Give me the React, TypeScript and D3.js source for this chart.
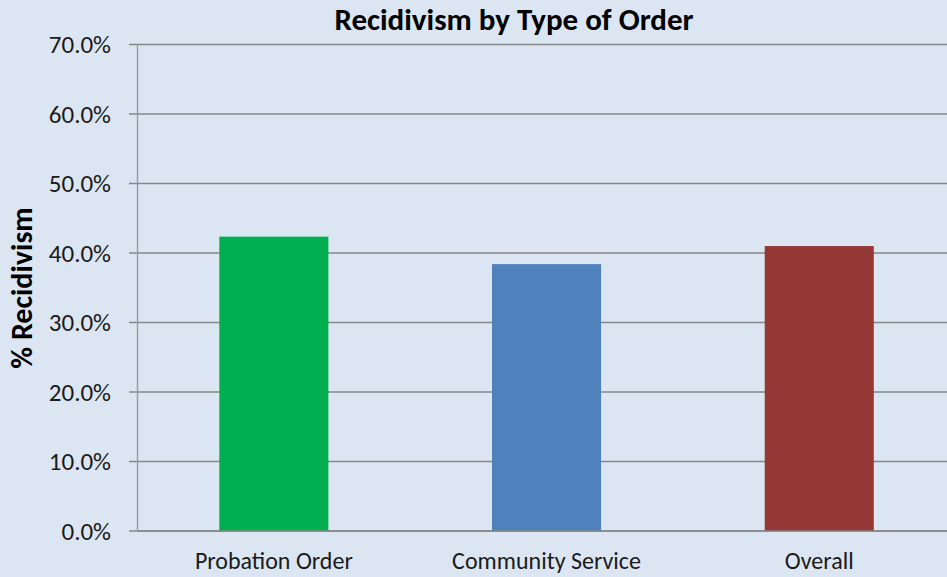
import * as d3 from "d3";

const categories = ["Probation Order", "Community Service", "Overall"];
const values = [0.4235, 0.384, 0.41];
const colors = ["#00b050", "#4f81bd", "#953735"];
const yTicks = [0, 0.1, 0.2, 0.3, 0.4, 0.5, 0.6, 0.7];

const width = 947;
const height = 577;
const marginLeft = 137.5;
const plotRight = 955.6;
const marginTop = 44.5;
const plotBottom = 531;

const font = "Carlito, Calibri, Lato, 'Open Sans', sans-serif";

export default function App() {
  const x = d3
    .scaleBand<string>()
    .domain(categories)
    .range([marginLeft, plotRight])
    .paddingInner(0.6)
    .paddingOuter(0.3);
  const y = d3.scaleLinear([0, 0.7], [plotBottom, marginTop]);
  const fmt = d3.format(".1%");

  return (
    <svg
      width={width}
      height={height}
      style={{ position: "fixed", top: 0, left: 0, background: "#dce6f2" }}
      fontFamily={font}
    >
      <rect width={width} height={height} fill="#dce6f2" />
      {/* gridlines and ticks */}
      {yTicks.map((t) => (
        <g key={t}>
          <line
            x1={129}
            x2={plotRight}
            y1={y(t)}
            y2={y(t)}
            stroke="#878787"
            strokeWidth={1.4}
          />
          <text
            x={111}
            y={y(t)}
            dy="0.35em"
            textAnchor="end"
            fontSize={25}
            fill="#1a1a1a"
          >
            {fmt(t)}
          </text>
        </g>
      ))}
      <line
        x1={marginLeft}
        x2={marginLeft}
        y1={marginTop}
        y2={plotBottom}
        stroke="#9a9a9a"
        strokeWidth={1.4}
      />
      {categories.map((c, i) => (
        <g key={c}>
          <rect
            x={x(c)}
            y={y(values[i])}
            width={x.bandwidth()}
            height={plotBottom - y(values[i])}
            fill={colors[i]}
          />
          <text
            x={x(c)! + x.bandwidth() / 2}
            y={569}
            textAnchor="middle"
            fontSize={24}
            fill="#1a1a1a"
          >
            {c}
          </text>
        </g>
      ))}
      <line
        x1={marginLeft}
        x2={plotRight}
        y1={plotBottom}
        y2={plotBottom}
        stroke="#878787"
        strokeWidth={1.4}
      />
      <text
        x={514}
        y={30}
        textAnchor="middle"
        fontSize={31}
        fontWeight="bold"
        fill="#000"
      >
        Recidivism by Type of Order
      </text>
      <text
        transform={`translate(32,288) rotate(-90)`}
        textAnchor="middle"
        fontSize={30}
        fontWeight="bold"
        fill="#000"
      >
        % Recidivism
      </text>
    </svg>
  );
}
